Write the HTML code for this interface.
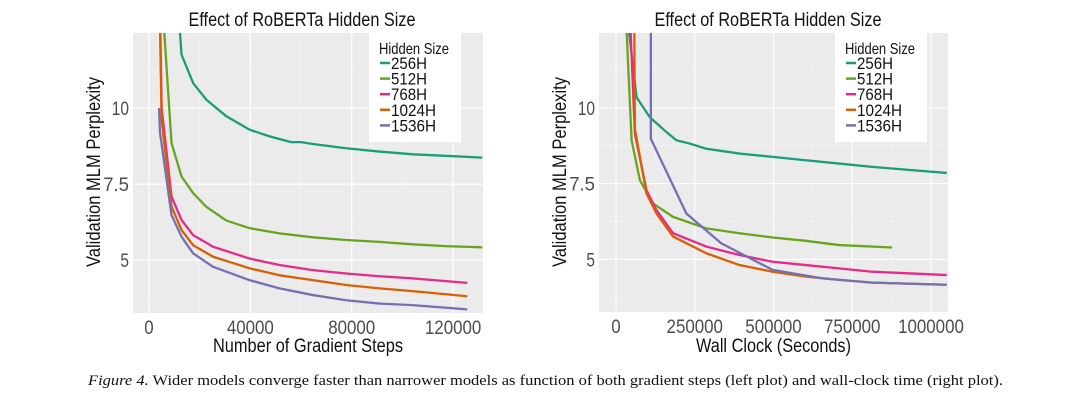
<!DOCTYPE html>
<html><head><meta charset="utf-8"><style>
body{margin:0;background:#fff;width:1080px;height:403px;overflow:hidden}
svg{display:block}
</style></head><body>
<svg id="s" width="1080" height="403">
<text x="88" y="385" style="font-family:'Liberation Serif',serif" font-size="15" fill="#111" textLength="915" lengthAdjust="spacingAndGlyphs"><tspan font-style="italic">Figure 4.</tspan> Wider models converge faster than narrower models as function of both gradient steps (left plot) and wall-clock time (right plot).</text>
</svg>
<script>
const seriesNames=["256H","512H","768H","1024H","1536H"];
const colors=["#1b9e77","#66a61e","#e7298a","#d95f02","#7570b3"];
// left plot data: [steps, perplexity]
const L256=[[11800,13],[12850,11.76],[17440,10.82],[22700,10.27],[30560,9.73],[39700,9.29],[47600,9.07],[56100,8.88],[60000,8.88],[64650,8.82],[77800,8.68],[90900,8.57],[104000,8.48],[117000,8.43],[131500,8.37]];
const L512=[[5640,13],[8900,8.85],[12850,7.75],[17440,7.2],[22700,6.75],[30560,6.3],[39700,6.05],[51500,5.88],[64650,5.75],[77800,5.66],[90900,5.6],[104000,5.52],[117000,5.46],[131500,5.42]];
const L768=[[4400,13],[5000,10],[8900,7.09],[12850,6.32],[17440,5.82],[25300,5.44],[39700,5.05],[51500,4.84],[64650,4.67],[77800,4.56],[90900,4.47],[104000,4.4],[125600,4.25]];
const L1024=[[4300,13],[5000,9.6],[8900,6.76],[12850,5.99],[17440,5.49],[25300,5.11],[39700,4.73],[51500,4.5],[64650,4.34],[77800,4.18],[90900,4.07],[104000,3.98],[125600,3.81]];
const L1536=[[4000,10],[4300,9.23],[8900,6.48],[12850,5.77],[17440,5.22],[25300,4.78],[39700,4.34],[51500,4.07],[64650,3.85],[77800,3.68],[90900,3.57],[104000,3.52],[125600,3.38]];
// right plot data: [seconds, perplexity]
const R256=[[35800,13],[65300,10.35],[107400,9.69],[160000,9.2],[191700,8.93],[233900,8.82],[286500,8.65],[391900,8.49],[497200,8.38],[602500,8.27],[707900,8.16],[813200,8.05],[918500,7.96],[1050200,7.85]];
const R512=[[31600,13],[49500,8.93],[75800,7.61],[118000,6.84],[181200,6.4],[286500,6.02],[391900,5.86],[497200,5.72],[602500,5.61],[707900,5.47],[876400,5.39]];
const R768=[[44200,13],[60000,9.14],[96900,7.28],[128500,6.62],[181200,5.86],[286500,5.42],[391900,5.14],[497200,4.92],[602500,4.81],[707900,4.7],[813200,4.59],[1050200,4.48]];
const R1024=[[57900,13],[60000,9.3],[96900,7.17],[128500,6.51],[181200,5.75],[286500,5.2],[391900,4.81],[497200,4.59],[602500,4.43],[707900,4.32],[813200,4.23],[1050200,4.16]];
const R1536=[[110600,13],[110600,8.98],[223300,6.51],[333900,5.53],[497200,4.65],[655200,4.37],[813200,4.23],[1050200,4.16]];
const leftXTicks=[0,40000,80000,120000];
const rightXTicks=[0,250000,500000,750000,1000000];
const yTicks=[5,7.5,10];
const yMinor=[3.75,6.25,8.75,11.25];

const NS="http://www.w3.org/2000/svg";
const svg=document.getElementById('s');
const FF="font-family:'Liberation Sans',sans-serif";
function mk(tag,attrs,parent){const e=document.createElementNS(NS,tag);for(const k in attrs)e.setAttribute(k,attrs[k]);if(tag==='text')e.setAttribute('style',FF);(parent||svg).appendChild(e);return e;}

function plot(cfg){
  const g=mk('g',{});
  
  
  const {x0,x1,y0,y1,xmin,xmax}=cfg;
  const ymin=3.26,ymax=12.47;
  const sx=v=>x0+(v-xmin)/(xmax-xmin)*(x1-x0);
  const sy=v=>y1-(v-ymin)/(ymax-ymin)*(y1-y0);
  const bg=mk('rect',{x:x0,y:y0,width:x1-x0,height:y1-y0,fill:'#ebebeb'},g);
  
  
  const clipId='c'+cfg.name;
  const cp=mk('clipPath',{id:clipId},g);mk('rect',{x:x0,y:y0,width:x1-x0,height:y1-y0},cp);
  yMinor.forEach(v=>mk('line',{x1:x0,x2:x1,y1:sy(v),y2:sy(v),stroke:'#f5f5f5','stroke-width':0.6},g));
  const step=cfg.xt[1]-cfg.xt[0];
  for(let v=cfg.xt[0]-step/2;v<xmax;v+=step){if(v>xmin)mk('line',{x1:sx(v),x2:sx(v),y1:y0,y2:y1,stroke:'#f5f5f5','stroke-width':0.6},g);}
  yTicks.forEach(v=>{
    mk('line',{x1:x0,x2:x1,y1:sy(v),y2:sy(v),stroke:'#fff','stroke-width':1.2},g);
    const s=String(v);
    const t=mk('text',{x:x0-4,y:sy(v)+7,'text-anchor':'end','font-size':19,fill:'#4d4d4d',textLength:s.length*8.6,lengthAdjust:'spacingAndGlyphs'},g);t.textContent=s;
    
    
  });
  cfg.xt.forEach(v=>{
    mk('line',{x1:sx(v),x2:sx(v),y1:y0,y2:y1,stroke:'#fff','stroke-width':1.2},g);
    const s=String(v);
    const t=mk('text',{x:sx(v),y:y1+21,'text-anchor':'middle','font-size':19,fill:'#4d4d4d',textLength:s.length*9.4,lengthAdjust:'spacingAndGlyphs'},g);t.textContent=s;
    
    
  });
  const lg=mk('g',{'clip-path':'url(#'+clipId+')'},g);
  cfg.series.forEach((s,i)=>{
    const p=mk('polyline',{points:s.map(d=>sx(d[0])+','+sy(d[1])).join(' '),fill:'none',stroke:colors[i],'stroke-width':2.3,'stroke-linejoin':'round'},lg);
    
    
  });
  const title=mk('text',{x:cfg.tx,y:26,'text-anchor':'middle','font-size':19,fill:'#111',textLength:227,lengthAdjust:'spacingAndGlyphs'},g);
  title.textContent='Effect of RoBERTa Hidden Size';
  
  
  const xt=mk('text',{x:(x0+x1)/2,y:352,'text-anchor':'middle','font-size':19,fill:'#111',textLength:cfg.xlabelLen,lengthAdjust:'spacingAndGlyphs'},g);
  xt.textContent=cfg.xlabel;
  
  
  const yt=mk('text',{x:0,y:0,'text-anchor':'middle','font-size':19,fill:'#111',textLength:190,lengthAdjust:'spacingAndGlyphs',transform:'translate('+cfg.ytx+',172) rotate(-90)'},g);
  yt.textContent='Validation MLM Perplexity';
  
  
  const lgd=mk('g',{},g);
  
  
  mk('rect',{x:cfg.lx,y:y0,width:92,height:109,fill:'#fff'},lgd);
  const lt=mk('text',{x:cfg.lx+10,y:y0+21,'font-size':16,fill:'#111',textLength:70,lengthAdjust:'spacingAndGlyphs'},lgd);lt.textContent='Hidden Size';
  seriesNames.forEach((n,i)=>{
    const yy=y0+30+i*15.6;
    const e=mk('g',{},lgd);
    
    
    mk('line',{x1:cfg.lx+11,x2:cfg.lx+21,y1:yy,y2:yy,stroke:colors[i],'stroke-width':2.5},e);
    const t=mk('text',{x:cfg.lx+22,y:yy+6,'font-size':17,fill:'#111',textLength:n.length*9,lengthAdjust:'spacingAndGlyphs'},e);t.textContent=n;
  });
}
plot({name:'left-chart',x0:133,x1:483,y0:33,y1:313,xmin:-6300,xmax:131800,xt:leftXTicks,series:[L256,L512,L768,L1024,L1536],xlabel:'Number of Gradient Steps',xlabelLen:190,ytx:100,lx:369,tx:302});
plot({name:'right-chart',x0:599,x1:948,y0:33,y1:312,xmin:-54000,xmax:1054000,xt:rightXTicks,series:[R256,R512,R768,R1024,R1536],xlabel:'Wall Clock (Seconds)',xlabelLen:155,ytx:566,lx:835,tx:768});
</script>
</body></html>
